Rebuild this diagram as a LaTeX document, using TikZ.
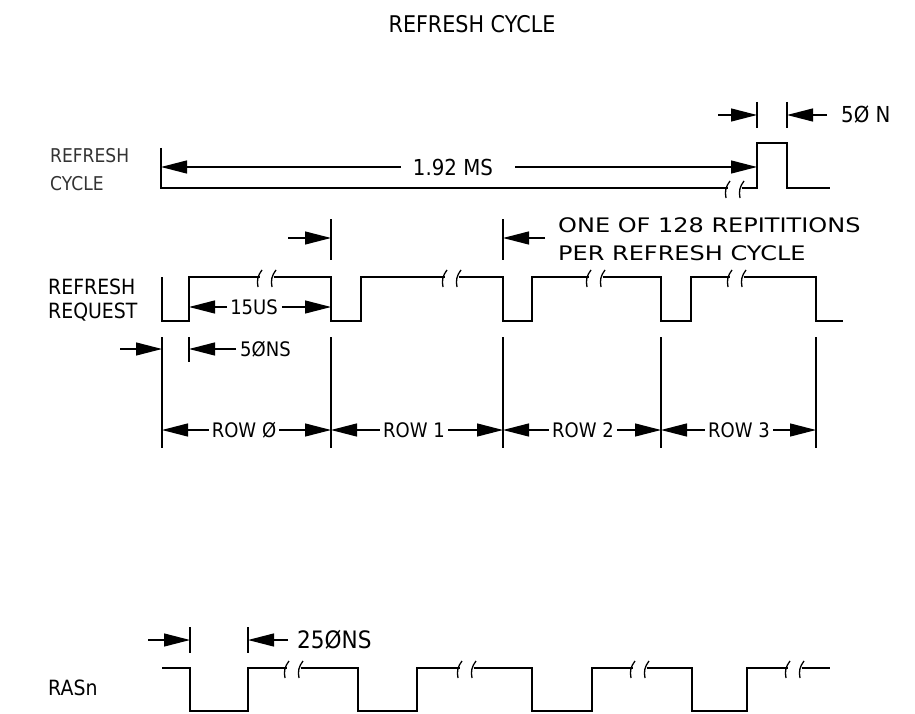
\documentclass[tikz,border=0pt]{standalone}
\usepackage{fontspec}
\newfontfamily\leroyw[FakeStretch=1.2]{DejaVu Sans}
\newfontfamily\leroy[FakeStretch=0.9]{DejaVu Sans}
\usetikzlibrary{arrows.meta}
\tikzset{
  wave/.style={line width=1.5pt, line join=miter},
  dimline/.style={line width=1.2pt},
  tickline/.style={line width=1.2pt},
  dimarrow/.style={dimline, -{Triangle[length=26pt,width=13pt]}},
  lbl/.style={inner sep=0pt, font=\leroy\fontsize{#1}{#1}\selectfont},
  lblw/.style={inner sep=0pt, font=\leroyw\fontsize{#1}{#1}\selectfont},
  brkstroke/.style={line width=1.3pt},
}
\newcommand\brkmark[2]{%
  \draw[brkstroke] ({#1-9},{#2+10}) to[bend left=25] ({#1-5},{#2-7});
  \draw[brkstroke] ({#1+5},{#2+10}) to[bend left=25] ({#1+9},{#2-7});}
\begin{document}
\begin{tikzpicture}[x=1pt,y=-1pt]
\useasboundingbox[fill=white] (0,0) rectangle (915,714);

% ---------- title ----------
\node[lbl=23] (title) at (472,24) {REFRESH CYCLE};

% ---------- REFRESH CYCLE row ----------
\node[lbl=19,anchor=west,text=black!80] (lrc1) at (50,156) {REFRESH};
\node[lbl=19,anchor=west,text=black!80] (lrc2) at (50,184) {CYCLE};

\draw[wave] (161,148) -- (161,188) -- (728,188) (742,188) -- (757,188)
  -- (757,143) -- (787,143) -- (787,188) -- (830,188);
\brkmark{735}{188}

\coordinate (rcStart) at (161,167);
\coordinate (rcRise) at (757,167);
\node[lbl=22] (t192) at (453,167) {1.92 MS};
\draw[dimarrow] ([xshift=-12pt]t192.west) -- (rcStart);
\draw[dimarrow] ([xshift=22pt]t192.east) -- (rcRise);

% 50 N marker
\draw[tickline] (757,102) -- (757,128);
\draw[tickline] (787,102) -- (787,128);
\coordinate (pL) at (757,115);
\coordinate (pR) at (787,115);
\coordinate (pLs) at (718,115);
\node[lbl=22,anchor=west] (t50n) at (841,115) {5Ø N};
\draw[dimarrow] (pLs) -- (pL);
\draw[dimarrow] ([xshift=-14pt]t50n.west) -- (pR);

% ---------- REFRESH REQUEST row ----------
\node[lbl=21,anchor=west] (lrr1) at (48,287) {REFRESH};
\node[lbl=21,anchor=west] (lrr2) at (48,312) {REQUEST};

\draw[wave] (162,277) -- (162,321) -- (189,321) -- (189,277) -- (260,277)
  (274,277) -- (331,277) -- (331,321) -- (361,321) -- (361,277) -- (445,277)
  (459,277) -- (503,277) -- (503,321) -- (532,321) -- (532,277) -- (589,277)
  (603,277) -- (661,277) -- (661,321) -- (691,321) -- (691,277) -- (730,277)
  (744,277) -- (816,277) -- (816,321) -- (843,321);
\brkmark{267}{277}
\brkmark{452}{277}
\brkmark{596}{277}
\brkmark{737}{277}

% period marker above
\draw[tickline] (331,219) -- (331,260);
\draw[tickline] (503,219) -- (503,260);
\coordinate (perL) at (331,238);
\coordinate (perLs) at (288,238);
\coordinate (perR) at (503,238);
\node[lblw=20,anchor=west] (one1) at (558,225) {ONE OF 128 REPITITIONS};
\node[lblw=20,anchor=west] (one2) at (558,253) {PER REFRESH CYCLE};
\coordinate (perRs) at (545,238);
\draw[dimarrow] (perLs) -- (perL);
\draw[dimarrow] (perRs) -- (perR);

% 15US
\coordinate (a15L) at (189,307);
\coordinate (a15R) at (331,307);
\node[lbl=20] (t15) at (254,307) {15US};
\draw[dimarrow] ([xshift=-3pt]t15.west) -- (a15L);
\draw[dimarrow] ([xshift=4pt]t15.east) -- (a15R);

% 50NS
\draw[tickline] (189,337) -- (189,362);
\coordinate (n50L) at (162,349);
\coordinate (n50Ls) at (120,349);
\coordinate (n50R) at (189,349);
\node[lbl=20,anchor=west] (t50ns) at (240,349) {5ØNS};
\draw[dimarrow] (n50Ls) -- (n50L);
\draw[dimarrow] ([xshift=-4pt]t50ns.west) -- (n50R);

% ---------- ROW dimensions ----------
\foreach \x/\n in {162/v0,331/v1,503/v2,661/v3,816/v4}{
  \draw[tickline] (\x,337) -- (\x,448);
  \coordinate (\n) at (\x,430);
}
\node[lbl=20] (r0) at (244,430) {ROW Ø};
\node[lbl=20] (r1) at (414,430) {ROW 1};
\node[lbl=20] (r2) at (583,430) {ROW 2};
\node[lbl=20] (r3) at (739,430) {ROW 3};
\draw[dimarrow] ([xshift=-3pt]r0.west) -- (v0);
\draw[dimarrow] ([xshift=3pt]r0.east) -- (v1);
\draw[dimarrow] ([xshift=-3pt]r1.west) -- (v1);
\draw[dimarrow] ([xshift=3pt]r1.east) -- (v2);
\draw[dimarrow] ([xshift=-3pt]r2.west) -- (v2);
\draw[dimarrow] ([xshift=3pt]r2.east) -- (v3);
\draw[dimarrow] ([xshift=-3pt]r3.west) -- (v3);
\draw[dimarrow] ([xshift=3pt]r3.east) -- (v4);

% ---------- RASn ----------
\node[lbl=21,anchor=west] (lras) at (48,688) {RASn};

\draw[wave] (162,668) -- (190,668) -- (190,711) -- (248,711) -- (248,668) -- (287,668)
  (301,668) -- (358,668) -- (358,711) -- (417,711) -- (417,668) -- (460,668)
  (474,668) -- (532,668) -- (532,711) -- (592,711) -- (592,668) -- (633,668)
  (647,668) -- (692,668) -- (692,711) -- (747,711) -- (747,668) -- (788,668)
  (802,668) -- (830,668);
\brkmark{294}{668}
\brkmark{467}{668}
\brkmark{640}{668}
\brkmark{795}{668}

\draw[tickline] (190,627) -- (190,653);
\draw[tickline] (248,627) -- (248,653);
\coordinate (rasL) at (190,640);
\coordinate (rasLs) at (148,640);
\coordinate (rasR) at (248,640);
\node[lbl=24,anchor=west] (t250) at (297,640) {25ØNS};
\draw[dimarrow] (rasLs) -- (rasL);
\draw[dimarrow] ([xshift=-9pt]t250.west) -- (rasR);
\end{tikzpicture}
\end{document}
